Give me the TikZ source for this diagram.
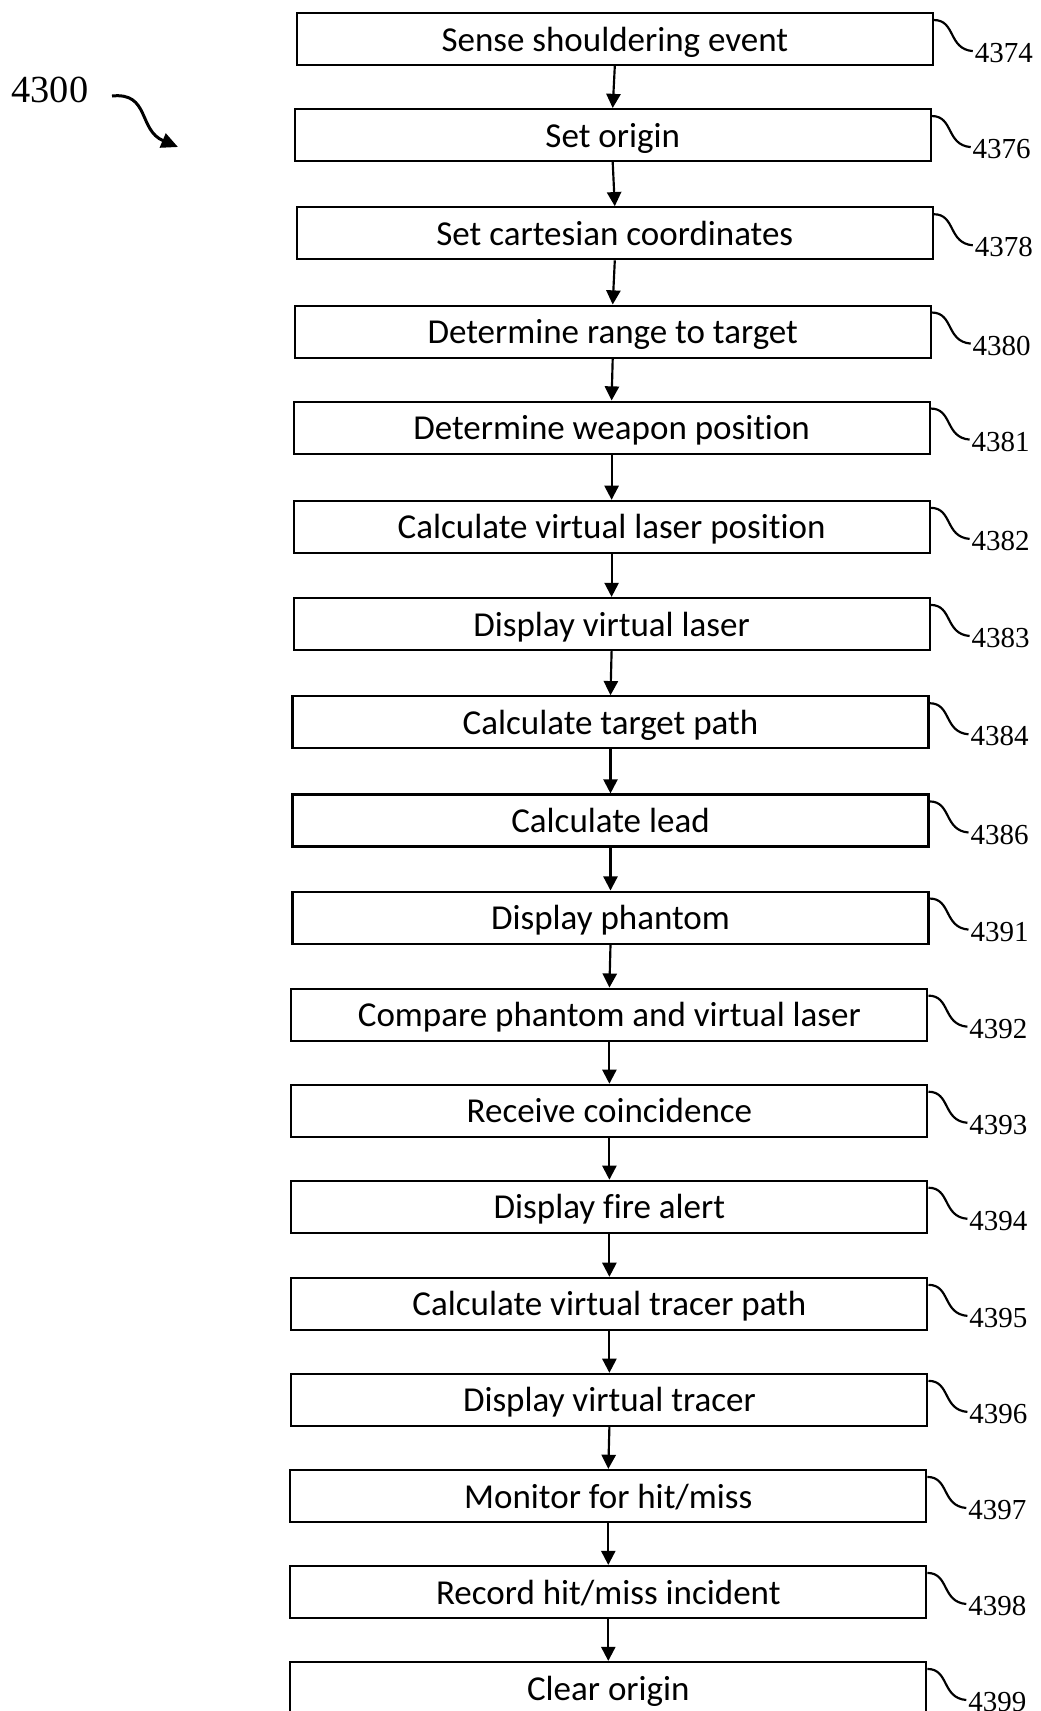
\documentclass[tikz,border=0pt]{standalone}
\usepackage{fontspec}
\usetikzlibrary{arrows.meta,calc}
\newfontfamily\boxfont[Ligatures=NoCommon]{Carlito}
\newfontfamily\numfont{Liberation Serif}
\begin{document}
\begin{tikzpicture}[x=0.6pt,y=-0.6pt,
  stepbox/.style={draw,line width=1.3pt,minimum width=381.6pt,inner sep=0pt,
     text height=22.8pt,text depth=8.4pt,
     font=\boxfont\fontsize{21}{24}\selectfont},
  refnum/.style={anchor=west,inner sep=1pt,font=\numfont\fontsize{17.4}{19}\selectfont},
  flow/.style={line width=1.3pt,-{Triangle[length=8.5pt,width=8.5pt]}},
  squig/.style={line width=1.3pt},
]
\useasboundingbox (0,0) rectangle (1040,1711);
\node[inner sep=0pt,font=\numfont\fontsize{23}{26}\selectfont] (lbl) at (50,90) {4300};
\coordinate (c0) at (112,96);
\coordinate (c1) at (178,147);
\draw[line width=1.8pt,-{Triangle[length=10pt,width=9pt]}] (c0) .. controls (150,92) and (138,130) .. (c1);
\foreach \i/\t/\l/\txt/\num in {
 1/13.1/296.8/{Sense shouldering event}/4374,
 2/109.1/294.7/{Set origin}/4376,
 3/207.3/296.8/{Set cartesian coordinates}/4378,
 4/305.6/294.7/{Determine range to target}/4380,
 5/401.6/293.6/{Determine weapon position}/4381,
 6/500.9/293.6/{Calculate virtual laser position}/4382,
 7/598.0/293.6/{Display virtual laser}/4383,
 8/696.3/292.5/{Calculate target path}/4384,
 9/794.5/292.5/{Calculate lead}/4386,
 10/891.6/292.5/{Display phantom}/4391,
 11/988.7/291.4/{Compare phantom and virtual laser}/4392,
 12/1084.8/291.4/{Receive coincidence}/4393,
 13/1180.8/291.4/{Display fire alert}/4394,
 14/1277.9/291.4/{Calculate virtual tracer path}/4395,
 15/1373.9/291.4/{Display virtual tracer}/4396,
 16/1470.0/290.3/{Monitor for hit/miss}/4397,
 17/1566.0/290.3/{Record hit/miss incident}/4398,
 18/1662.0/290.3/{Clear origin}/4399}{
  \node[stepbox] (b\i) at (\l+318,\t+26) {\txt};
  \node[refnum] (n\i) at (\l+636+40,\t+40) {\num};
  \draw[squig] ($(b\i.north east)+(0,8)$) .. controls ($(b\i.north east)+(22,8)$) and ($(b\i.north east)+(14,37)$) .. ($(n\i.west)+(0,-2)$);
}
\foreach \i [evaluate=\i as \j using int(\i+1)] in {1,...,17}{
  \draw[flow] (b\i.south) -- (b\j.north);
}
\end{tikzpicture}
\end{document}
